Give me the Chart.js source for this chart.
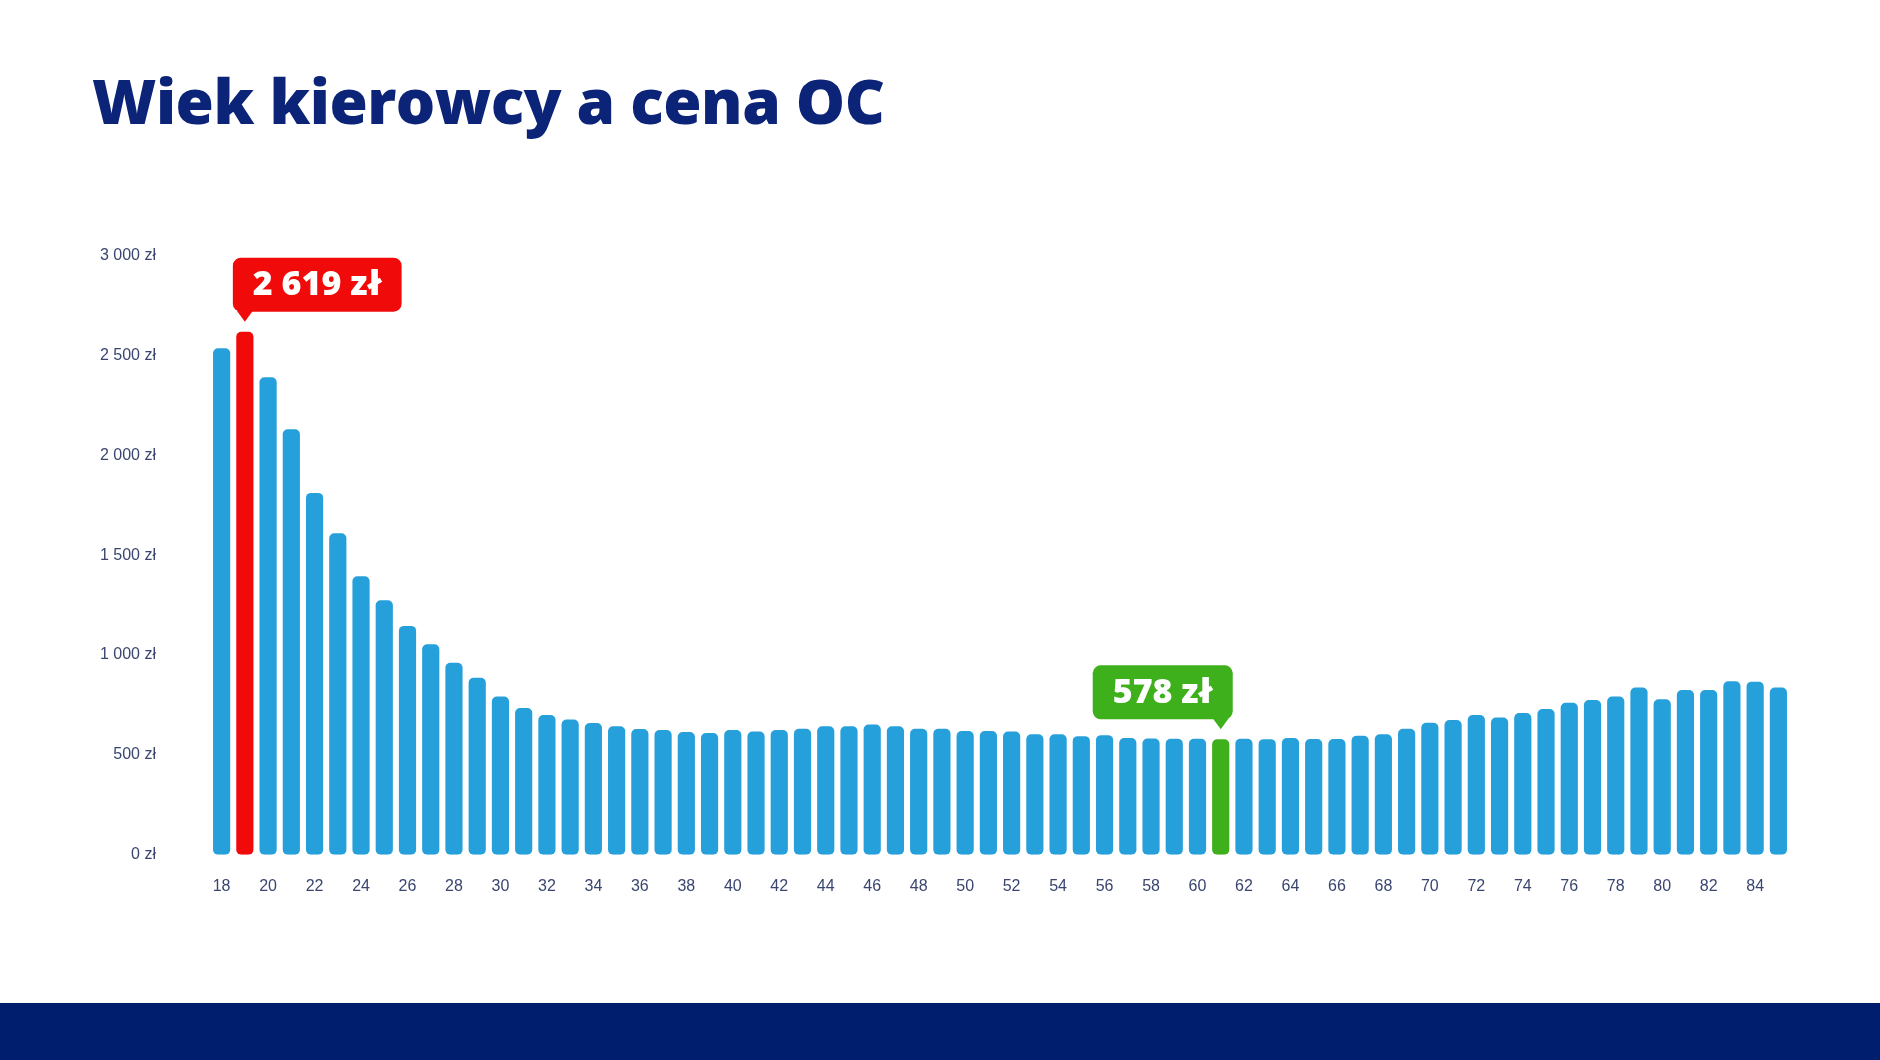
<!DOCTYPE html>
<html>
<head>
<meta charset="utf-8">
<script src="https://cdn.jsdelivr.net/npm/chart.js@4"></script>
<style>
  body { margin: 0; width: 1880px; height: 1060px; background: #fff; position: relative; overflow: hidden; font-family: "Open Sans", sans-serif; }
  h1 { position: absolute; left: 92px; top: 58px; margin: 0; font-family: "Open Sans", sans-serif; font-weight: 800; font-size: 62px; color: #0c2478; letter-spacing: -0.5px; }
  #wrap { position: absolute; left: 60px; top: 200px; width: 1760px; height: 720px; }
  #footer { position: absolute; left: 0; top: 1003px; width: 1880px; height: 57px; background: #001e6e; }
</style>
</head>
<body>
<h1>Wiek kierowcy a cena OC</h1>
<div id="wrap"><canvas id="ocChart"></canvas></div>
<div id="footer"></div>
<script>
const ages = [];
for (let a = 18; a <= 85; a++) ages.push(a);

const prices = [
  2536, 2619, 2391, 2131, 1812, 1610, 1395, 1274, 1146, 1054,
  961, 886, 793, 735, 700, 677, 660, 643, 630, 625,
  615, 610, 625, 617, 625, 631, 643, 643, 652, 643,
  631, 631, 620, 620, 617, 603, 603, 594, 599, 585,
  582, 581, 581, 578, 581, 579, 585, 580, 580, 596,
  603, 631, 661, 675, 700, 687, 710, 730, 761, 775,
  793, 837, 779, 825, 825, 869, 867, 837
];

const yTicks = [0, 500, 1000, 1500, 2000, 2500, 3000];

// highlighted bars: index into ages, colour, label, where the pointer sits in the box
const highlightIdx = [1, 43];
const highlightColors = ['#f00a0a', '#3db01c'];
const highlightLabels = ['2 619 zł', '578 zł'];

const barColors = prices.map((_, i) => {
  const h = highlightIdx.indexOf(i);
  return h >= 0 ? highlightColors[h] : '#26a0db';
});

function fmt(v) {
  return String(v).replace(/\B(?=(\d{3})+(?!\d))/g, ' ') + ' zł';
}

const calloutPlugin = {
  id: 'callout',
  afterDatasetsDraw(chart) {
    const ctx = chart.ctx;
    const meta = chart.getDatasetMeta(0);
    highlightIdx.forEach((idx, h) => {
      const bar = meta.data[idx];
      ctx.save();
      ctx.font = '800 34px "Open Sans", sans-serif';
      const tw = ctx.measureText(highlightLabels[h]).width;
      const w = tw + 40, hgt = 54;
      const tipY = bar.y - 10;
      const bottom = tipY - 10;
      const top = bottom - hgt;
      // red box extends right from the bar, green box extends left
      const left = h === 0 ? bar.x - 12 : bar.x - w + 12;
      ctx.fillStyle = highlightColors[h];
      ctx.beginPath();
      ctx.roundRect(left, top, w, hgt, 8);
      ctx.fill();
      ctx.beginPath();
      ctx.moveTo(bar.x - 8, bottom - 1);
      ctx.lineTo(bar.x + 8, bottom - 1);
      ctx.lineTo(bar.x, tipY);
      ctx.closePath();
      ctx.fill();
      ctx.fillStyle = '#fff';
      ctx.textAlign = 'center';
      ctx.textBaseline = 'middle';
      ctx.fillText(highlightLabels[h], left + w / 2, top + hgt / 2 + 1);
      ctx.restore();
    });
  }
};

new Chart(document.getElementById('ocChart'), {
  type: 'bar',
  data: {
    labels: ages,
    datasets: [{
      data: prices,
      backgroundColor: barColors,
      borderRadius: 5,
      borderSkipped: false,
      categoryPercentage: 1,
      barPercentage: 0.74
    }]
  },
  options: {
    responsive: true,
    maintainAspectRatio: false,
    animation: false,
    layout: { padding: { top: 20, right: 30, bottom: 10 } },
    plugins: { legend: { display: false }, tooltip: { enabled: false } },
    scales: {
      x: {
        grid: { display: false },
        border: { display: false },
        ticks: {
          color: '#3a4670',
          font: { size: 16 },
          maxRotation: 0,
          autoSkip: false,
          padding: 14,
          callback: (v, i) => (ages[i] % 2 === 0 ? ages[i] : '')
        }
      },
      y: {
        min: 0,
        max: 3000,
        afterFit: s => { s.width = 150; },
        afterBuildTicks: s => { s.ticks = yTicks.map(v => ({ value: v })); },
        grid: { display: false },
        border: { display: false },
        ticks: { color: '#3a4670', font: { size: 16 }, padding: 46, callback: v => fmt(v) }
      }
    }
  },
  plugins: [calloutPlugin]
});
</script>
</body>
</html>
